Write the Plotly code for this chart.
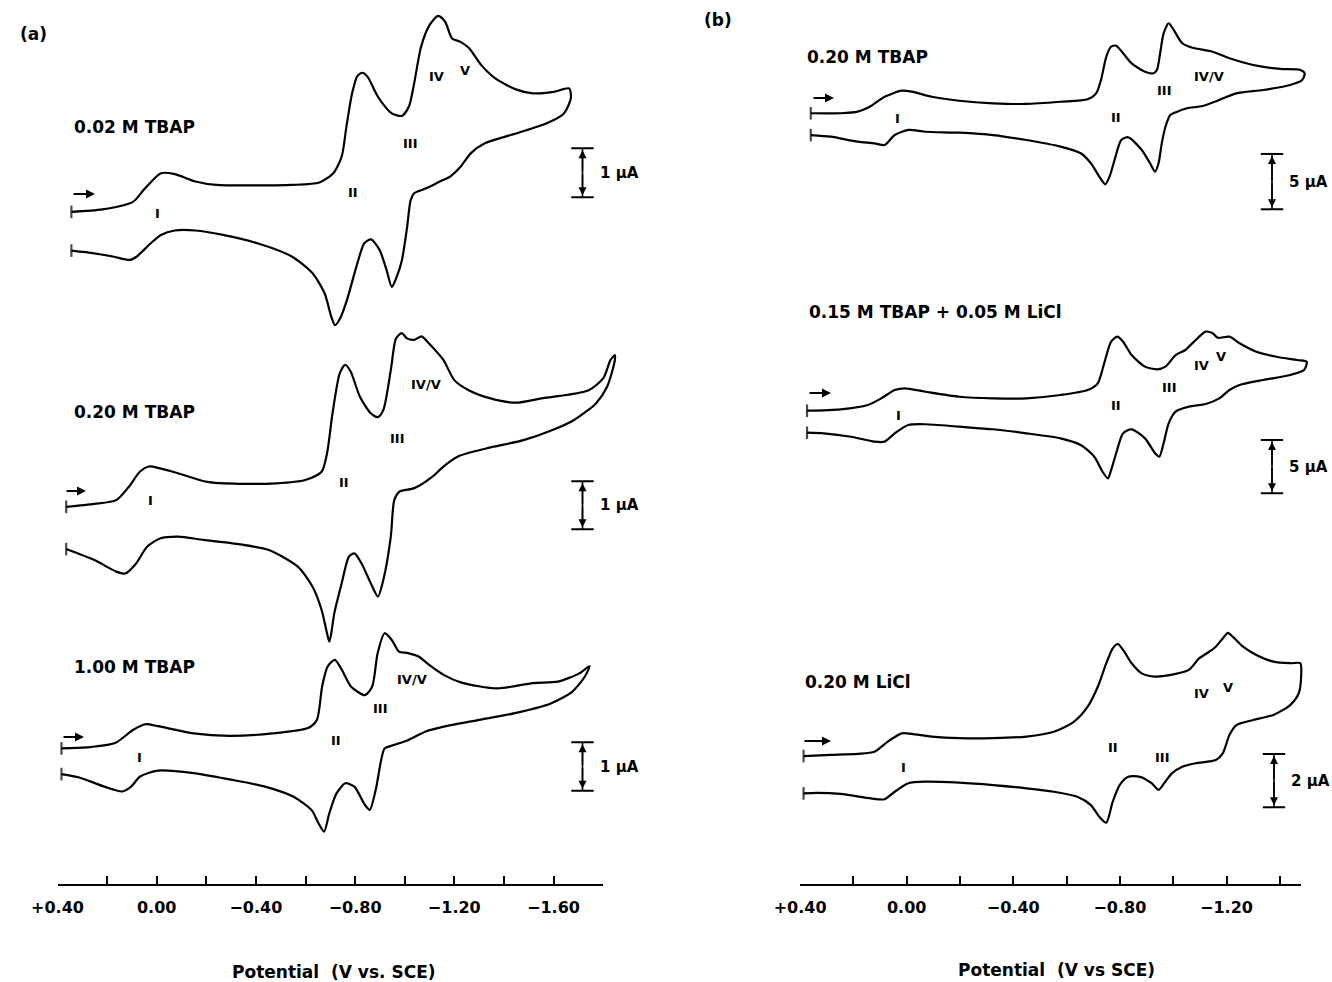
import plotly.graph_objects as go

# ---------------- data (potential in V vs SCE, current in uA, cathodic up) ----------------
# Panel (a) 0.02 M TBAP
a1_fwd_E = [0.344, 0.219, 0.094, 0.052, -0.017, -0.073, -0.156, -0.240, -0.406, -0.545, -0.656, -0.712, -0.746, -0.765, -0.788, -0.809, -0.829, -0.850, -0.892, -0.948, -0.989, -1.017, -1.038, -1.066, -1.100, -1.135, -1.163, -1.191, -1.225, -1.260, -1.308, -1.364, -1.448, -1.517, -1.600, -1.663]
a1_fwd_i = [0.39, 0.44, 0.60, 0.84, 1.18, 1.16, 1.01, 0.94, 0.93, 0.94, 0.99, 1.18, 1.52, 2.13, 2.81, 3.16, 3.23, 3.15, 2.74, 2.40, 2.35, 2.54, 3.01, 3.76, 4.20, 4.39, 4.27, 3.93, 3.86, 3.73, 3.39, 3.12, 2.89, 2.81, 2.84, 2.91]
a1_rev_E = [-1.670, -1.642, -1.573, -1.448, -1.323, -1.267, -1.225, -1.183, -1.142, -1.086, -1.038, -1.024, -1.010, -0.989, -0.968, -0.948, -0.927, -0.899, -0.864, -0.837, -0.809, -0.767, -0.740, -0.719, -0.704, -0.677, -0.628, -0.545, -0.406, -0.267, -0.156, -0.073, -0.017, 0.024, 0.080, 0.108, 0.177, 0.274, 0.344]
a1_rev_i = [2.71, 2.40, 2.20, 1.99, 1.79, 1.59, 1.31, 1.11, 1.01, 0.87, 0.77, 0.63, 0.09, -0.59, -0.93, -1.14, -0.80, -0.39, -0.17, -0.25, -0.66, -1.41, -1.78, -1.92, -1.75, -1.27, -0.86, -0.52, -0.25, -0.08, 0.01, 0.01, -0.08, -0.25, -0.52, -0.59, -0.52, -0.44, -0.40]

# Panel (a) 0.20 M TBAP
a2_fwd_E = [0.365, 0.251, 0.163, 0.112, 0.068, 0.031, -0.013, -0.086, -0.203, -0.335, -0.482, -0.599, -0.665, -0.687, -0.709, -0.738, -0.760, -0.782, -0.819, -0.863, -0.892, -0.914, -0.944, -0.965, -0.988, -1.009, -1.039, -1.068, -1.097, -1.156, -1.200, -1.258, -1.346, -1.449, -1.552, -1.625, -1.742, -1.801, -1.830, -1.848]
a2_fwd_i = [0.42, 0.48, 0.56, 0.84, 1.15, 1.26, 1.22, 1.12, 0.94, 0.90, 0.91, 0.98, 1.15, 1.54, 2.37, 3.20, 3.38, 3.24, 2.72, 2.37, 2.29, 2.44, 3.27, 3.93, 4.04, 3.93, 3.90, 3.97, 3.83, 3.48, 3.06, 2.85, 2.68, 2.59, 2.68, 2.73, 2.85, 3.10, 3.48, 3.58]
a2_rev_E = [-1.845, -1.816, -1.772, -1.683, -1.596, -1.479, -1.332, -1.215, -1.156, -1.112, -1.039, -0.980, -0.958, -0.944, -0.914, -0.892, -0.863, -0.826, -0.797, -0.775, -0.746, -0.716, -0.704, -0.696, -0.684, -0.665, -0.628, -0.570, -0.452, -0.306, -0.189, -0.086, -0.013, 0.039, 0.083, 0.127, 0.163, 0.251, 0.365]
a2_rev_i = [3.41, 2.92, 2.58, 2.23, 2.02, 1.81, 1.64, 1.47, 1.26, 1.05, 0.81, 0.74, 0.56, -0.20, -1.10, -1.45, -1.17, -0.76, -0.55, -0.62, -1.17, -1.80, -2.21, -2.39, -2.15, -1.73, -1.24, -0.83, -0.48, -0.34, -0.27, -0.20, -0.24, -0.41, -0.76, -0.97, -0.93, -0.69, -0.46]

# Panel (a) 1.00 M TBAP
a3_fwd_E = [0.384, 0.283, 0.168, 0.096, 0.046, -0.005, -0.149, -0.293, -0.466, -0.610, -0.646, -0.667, -0.689, -0.718, -0.747, -0.783, -0.840, -0.869, -0.891, -0.919, -0.948, -0.977, -1.013, -1.056, -1.100, -1.157, -1.229, -1.373, -1.517, -1.618, -1.704, -1.745]
a3_fwd_i = [0.26, 0.28, 0.37, 0.64, 0.76, 0.72, 0.57, 0.52, 0.57, 0.68, 0.85, 1.54, 1.95, 2.09, 1.88, 1.54, 1.36, 1.54, 2.23, 2.64, 2.50, 2.26, 2.23, 2.16, 1.98, 1.78, 1.62, 1.50, 1.61, 1.64, 1.81, 1.96]
a3_rev_E = [-1.726, -1.675, -1.589, -1.445, -1.301, -1.157, -1.085, -1.013, -0.956, -0.919, -0.905, -0.883, -0.859, -0.840, -0.797, -0.761, -0.725, -0.696, -0.675, -0.653, -0.624, -0.552, -0.437, -0.293, -0.149, -0.005, 0.067, 0.103, 0.139, 0.211, 0.312, 0.384]
a3_rev_i = [1.74, 1.43, 1.19, 0.99, 0.85, 0.71, 0.61, 0.43, 0.33, 0.26, 0.02, -0.60, -1.01, -0.91, -0.53, -0.46, -0.67, -1.08, -1.46, -1.29, -1.01, -0.74, -0.53, -0.38, -0.25, -0.20, -0.32, -0.53, -0.63, -0.53, -0.34, -0.27]

# Panel (b) 0.20 M TBAP
b1_fwd_E = [0.360, 0.248, 0.184, 0.134, 0.083, 0.019, -0.019, -0.094, -0.197, -0.324, -0.449, -0.577, -0.679, -0.711, -0.729, -0.749, -0.767, -0.786, -0.812, -0.844, -0.894, -0.926, -0.939, -0.951, -0.964, -0.983, -1.002, -1.034, -1.072, -1.148, -1.211, -1.300, -1.402, -1.477, -1.493]
b1_fwd_i = [0.99, 0.99, 1.13, 1.64, 2.48, 3.03, 2.94, 2.48, 2.12, 1.89, 1.83, 2.03, 2.25, 2.79, 3.99, 6.10, 7.00, 7.09, 6.41, 5.50, 4.74, 4.60, 4.90, 6.41, 8.21, 9.12, 8.51, 7.31, 6.91, 6.55, 5.95, 5.35, 4.99, 4.90, 4.60]
b1_rev_E = [-1.484, -1.439, -1.338, -1.237, -1.173, -1.110, -1.052, -1.015, -0.989, -0.971, -0.957, -0.945, -0.932, -0.913, -0.882, -0.831, -0.805, -0.780, -0.761, -0.745, -0.723, -0.691, -0.653, -0.577, -0.449, -0.324, -0.197, -0.070, -0.006, 0.045, 0.083, 0.121, 0.184, 0.285, 0.360]
b1_rev_i = [3.99, 3.54, 3.09, 2.79, 2.19, 1.64, 1.44, 1.13, 0.83, -0.23, -1.73, -3.53, -4.29, -3.53, -2.33, -1.18, -1.43, -3.23, -4.74, -5.43, -4.74, -3.53, -2.63, -2.03, -1.43, -0.98, -0.77, -0.68, -0.52, -0.98, -1.88, -1.73, -1.58, -1.13, -0.98]

# Panel (b) 0.15 M TBAP + 0.05 M LiCl
b2_fwd_E = [0.374, 0.248, 0.146, 0.095, 0.045, 0.007, -0.070, -0.197, -0.324, -0.449, -0.577, -0.679, -0.717, -0.741, -0.767, -0.790, -0.812, -0.844, -0.894, -0.939, -0.971, -1.009, -1.046, -1.078, -1.122, -1.148, -1.167, -1.211, -1.249, -1.312, -1.388, -1.465, -1.501]
b2_fwd_i = [1.03, 1.16, 1.57, 2.19, 2.97, 3.13, 2.81, 2.34, 2.19, 2.19, 2.50, 2.97, 3.60, 5.47, 7.50, 7.97, 7.50, 6.25, 5.16, 4.91, 5.16, 6.25, 6.72, 7.50, 8.44, 8.29, 7.87, 7.97, 7.35, 6.56, 6.09, 5.78, 5.62]
b2_rev_E = [-1.491, -1.439, -1.338, -1.249, -1.211, -1.173, -1.122, -1.059, -1.009, -0.983, -0.964, -0.948, -0.932, -0.894, -0.844, -0.812, -0.786, -0.767, -0.755, -0.735, -0.704, -0.653, -0.577, -0.449, -0.324, -0.197, -0.070, -0.006, 0.045, 0.083, 0.121, 0.209, 0.311, 0.374]
b2_rev_i = [4.85, 4.38, 3.91, 3.44, 2.97, 2.19, 1.66, 1.41, 0.94, -0.15, -2.02, -3.28, -2.96, -1.56, -0.71, -1.09, -2.96, -4.53, -5.31, -4.69, -3.28, -2.18, -1.56, -1.09, -0.71, -0.47, -0.24, -0.31, -1.09, -1.87, -1.87, -1.41, -1.09, -1.03]

# Panel (b) 0.20 M LiCl
b3_fwd_E = [0.387, 0.285, 0.184, 0.121, 0.071, 0.019, -0.019, -0.094, -0.197, -0.324, -0.449, -0.552, -0.628, -0.679, -0.717, -0.749, -0.773, -0.792, -0.812, -0.844, -0.882, -0.932, -1.009, -1.059, -1.097, -1.135, -1.160, -1.186, -1.205, -1.224, -1.262, -1.312, -1.376, -1.439, -1.477]
b3_fwd_i = [0.70, 0.74, 0.78, 0.86, 1.24, 1.55, 1.53, 1.43, 1.37, 1.37, 1.43, 1.61, 1.99, 2.55, 3.30, 4.18, 4.74, 4.90, 4.68, 4.18, 3.80, 3.68, 3.78, 3.93, 4.36, 4.61, 4.80, 5.11, 5.32, 5.17, 4.80, 4.49, 4.24, 4.18, 4.18]
b3_rev_E = [-1.480, -1.471, -1.439, -1.376, -1.300, -1.237, -1.211, -1.186, -1.160, -1.084, -1.034, -0.995, -0.964, -0.945, -0.919, -0.875, -0.831, -0.799, -0.773, -0.749, -0.723, -0.691, -0.640, -0.552, -0.449, -0.324, -0.197, -0.070, -0.006, 0.045, 0.083, 0.134, 0.248, 0.337, 0.387]
b3_rev_i = [3.68, 3.05, 2.61, 2.24, 2.05, 1.86, 1.49, 0.80, 0.55, 0.43, 0.30, 0.05, -0.35, -0.57, -0.32, -0.08, -0.08, -0.39, -1.01, -1.80, -1.58, -1.14, -0.83, -0.64, -0.51, -0.39, -0.30, -0.26, -0.32, -0.64, -0.92, -0.89, -0.72, -0.68, -0.70]

# condition labels and peak labels
cond_labels = ["0.02 M TBAP", "0.20 M TBAP", "1.00 M TBAP",
               "0.20 M TBAP", "0.15 M TBAP + 0.05 M LiCl", "0.20 M LiCl"]
peak_labels = [["I", "II", "III", "IV", "V"],
               ["I", "II", "III", "IV/V"],
               ["I", "II", "III", "IV/V"],
               ["I", "II", "III", "IV/V"],
               ["I", "II", "III", "IV", "V"],
               ["I", "II", "III", "IV", "V"]]
scale_sizes = [1, 1, 1, 5, 5, 2]          # uA
scale_texts = ["1 µA", "1 µA", "1 µA", "5 µA", "5 µA", "2 µA"]

ticks_a = [0.4, 0.2, 0.0, -0.2, -0.4, -0.6, -0.8, -1.0, -1.2, -1.4, -1.6]
ticktext_a = ["+0.40", "", "0.00", "", "−0.40", "", "−0.80", "", "−1.20", "", "−1.60"]
ticks_b = [0.4, 0.2, 0.0, -0.2, -0.4, -0.6, -0.8, -1.0, -1.2, -1.4]
ticktext_b = ["+0.40", "", "0.00", "", "−0.40", "", "−0.80", "", "−1.20", ""]

# ---------------- layout geometry (pixels) ----------------
W, H = 1332, 982
FONT = "DejaVu Sans"


def pxx(x):
    return x / W


def pxy(y):
    return 1 - y / H


X0_A, PPV_A = 156.7, 248.0   # pixel of 0 V, pixels per volt
X0_B, PPV_B = 906.7, 266.5
AXIS_Y = 884


def xdom(x0, ppv, e_hi, e_lo):
    return [max(0.0, (x0 - ppv * e_hi) / W), min(1.0, (x0 - ppv * e_lo) / W)]


# curve: (fwdE, fwdI, revE, revI, panel, y0 pixel, px per uA, top px, bottom px)
curves = [
    (a1_fwd_E, a1_fwd_i, a1_rev_E, a1_rev_i, "a", 231.0, 49.0, 0, 345),
    (a2_fwd_E, a2_fwd_i, a2_rev_E, a2_rev_i, "a", 527.0, 48.0, 318, 662),
    (a3_fwd_E, a3_fwd_i, a3_rev_E, a3_rev_i, "a", 761.0, 48.4, 618, 850),
    (b1_fwd_E, b1_fwd_i, b1_rev_E, b1_rev_i, "b", 124.2, 11.07, 0, 240),
    (b2_fwd_E, b2_fwd_i, b2_rev_E, b2_rev_i, "b", 421.7, 10.67, 290, 520),
    (b3_fwd_E, b3_fwd_i, b3_rev_E, b3_rev_i, "b", 774.7, 26.67, 615, 840),
]

# text placements (pixels)
cond_pos = [(72, 127), (72, 412), (72, 667), (805, 57), (807, 312), (803, 682)]
peak_pos = [[(157, 213), (353, 193), (410, 143), (436, 77), (465, 70)],
            [(150, 500), (344, 482), (397, 438), (426, 385)],
            [(139, 757), (336, 740), (380, 708), (412, 679)],
            [(897, 118), (1116, 117), (1164, 91), (1209, 77)],
            [(898, 415), (1116, 405), (1169, 387), (1201, 365), (1221, 357)],
            [(903, 767), (1113, 747), (1162, 757), (1201, 693), (1228, 687)]]
arrow_pos = [(72, 95, 194), (65, 86, 491), (62, 84, 737),
             (812, 834, 98), (808, 831, 393), (803, 831, 741)]
bar_px = [582.5, 582.5, 582.5, 1272, 1272, 1274]
bar_lo_px = [197.3, 529.3, 790.7, 209.3, 493.3, 807.3]

fig = go.Figure()
layout = dict(
    width=W, height=H, margin=dict(l=0, r=0, t=0, b=0, pad=0, autoexpand=False),
    paper_bgcolor="white", plot_bgcolor="rgba(0,0,0,0)",
    showlegend=False, font=dict(family=FONT, color="black"),
)

# hidden x axes carrying the curves
layout["xaxis"] = dict(range=[0.45, -1.95], domain=xdom(X0_A, PPV_A, 0.45, -1.95),
                       visible=False, anchor="y", fixedrange=True, automargin=False)
layout["xaxis3"] = dict(range=[0.45, -1.58], domain=xdom(X0_B, PPV_B, 0.45, -1.58),
                        visible=False, anchor="y4", fixedrange=True, automargin=False)

annotations = []
black = "black"

for n, (fE, fI, rE, rI, panel, y0, k, top, bot) in enumerate(curves):
    yid = "" if n == 0 else str(n + 1)
    xref = "x" if panel == "a" else "x3"
    layout["yaxis" + yid] = dict(
        range=[(y0 - bot) / k, (y0 - top) / k], domain=[pxy(bot), pxy(top)],
        visible=False, anchor=xref, fixedrange=True, automargin=False)
    xs = list(fE) + list(rE)
    ys = list(fI) + list(rI)
    sizes = [9] + [0] * (len(xs) - 2) + [9]
    fig.add_trace(go.Scatter(
        x=xs, y=ys, xaxis=xref, yaxis="y" + yid, mode="lines+markers",
        line=dict(color=black, width=2.2, shape="spline", smoothing=0.7),
        marker=dict(symbol="line-ns", size=sizes, line=dict(width=2.2, color=black)),
        hoverinfo="skip"))

    # scale bar
    x0, ppv = (X0_A, PPV_A) if panel == "a" else (X0_B, PPV_B)
    eb = (x0 - bar_px[n]) / ppv
    lo = (y0 - bar_lo_px[n]) / k
    hi = lo + scale_sizes[n]
    mid = (lo + hi) / 2
    fig.add_trace(go.Scatter(
        x=[eb, eb], y=[lo, hi], xaxis=xref, yaxis="y" + yid, mode="lines+markers",
        line=dict(color=black, width=1.6),
        marker=dict(symbol="line-ew", size=16, line=dict(width=2, color=black)),
        hoverinfo="skip"))
    for tip in (lo, hi):
        annotations.append(dict(
            x=eb, y=tip, ax=eb, ay=mid, xref=xref, yref="y" + yid,
            axref=xref, ayref="y" + yid, text="", showarrow=True,
            arrowhead=2, arrowsize=1, arrowwidth=1.6, arrowcolor=black, standoff=2))
    annotations.append(dict(
        x=eb, y=mid, xref=xref, yref="y" + yid, text=scale_texts[n], showarrow=False,
        xanchor="left", yanchor="middle", xshift=15,
        font=dict(family=FONT, size=15, color=black, weight="bold")))

    # condition label
    cx, cy = cond_pos[n]
    annotations.append(dict(
        x=pxx(cx), y=pxy(cy), xref="paper", yref="paper", text=cond_labels[n],
        showarrow=False, xanchor="left", yanchor="middle",
        font=dict(family=FONT, size=17, color=black, weight="bold")))
    # peak labels
    for lab, (lx, ly) in zip(peak_labels[n], peak_pos[n]):
        annotations.append(dict(
            x=pxx(lx), y=pxy(ly), xref="paper", yref="paper", text=lab,
            showarrow=False, xanchor="center", yanchor="middle",
            font=dict(family=FONT, size=13, color=black, weight="bold")))
    # scan direction arrow
    ax0, ax1, ay_ = arrow_pos[n]
    annotations.append(dict(
        x=pxx(ax1), y=pxy(ay_), xref="paper", yref="paper", text="",
        showarrow=True, ax=-(ax1 - ax0), ay=0, axref="pixel", ayref="pixel",
        arrowhead=2, arrowsize=0.9, arrowwidth=2, arrowcolor=black))

# visible potential axes
for xa, ya, x0, ppv, lo_e, tv, tt in (("xaxis2", "yaxis7", X0_A, PPV_A, -1.8, ticks_a, ticktext_a),
                                      ("xaxis4", "yaxis8", X0_B, PPV_B, -1.48, ticks_b, ticktext_b)):
    layout[xa] = dict(
        range=[0.4, lo_e], domain=xdom(x0, ppv, 0.4, lo_e), anchor=ya[0] + ya[-1],
        showline=True, linecolor=black, linewidth=1.6, ticks="inside", ticklen=8,
        tickwidth=1.6, tickcolor=black, tickmode="array", tickvals=tv, ticktext=tt,
        showgrid=False, zeroline=False, fixedrange=True, ticklabelstandoff=8,
        automargin=False,
        tickfont=dict(family=FONT, size=16, color=black, weight="bold"))
    layout[ya] = dict(range=[0, 1], domain=[pxy(AXIS_Y), pxy(AXIS_Y - 12)],
                      visible=False, anchor="x" + xa[-1], fixedrange=True, automargin=False)
    fig.add_trace(go.Scatter(x=[None], y=[None], xaxis="x" + xa[-1], yaxis=ya[0] + ya[-1],
                             mode="markers", hoverinfo="skip"))

# axis titles and panel letters
for txt, cx, cy in (("Potential  (V vs. SCE)", 334, 972), ("Potential  (V vs SCE)", 1056, 970),
                    ("(a)", 33, 34), ("(b)", 718, 20)):
    annotations.append(dict(
        x=pxx(cx), y=pxy(cy), xref="paper", yref="paper", text=txt, showarrow=False,
        xanchor="center", yanchor="middle",
        font=dict(family=FONT, size=17, color=black, weight="bold")))

layout["annotations"] = annotations
fig.update_layout(**layout)

fig.write_html("out.html", config={"displayModeBar": False},
               post_script="document.body.style.margin='0';")
